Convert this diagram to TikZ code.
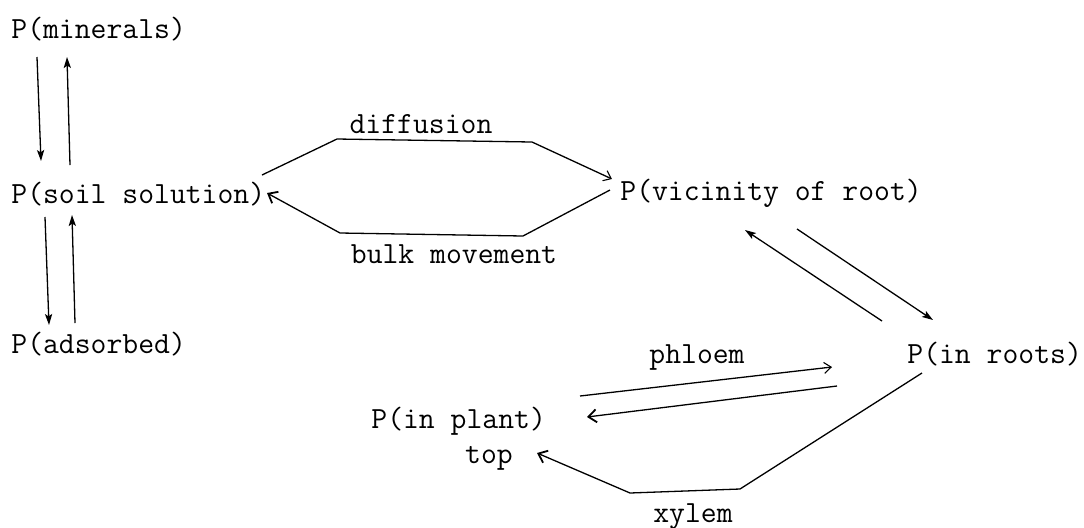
\documentclass[tikz,border=0pt]{standalone}
\usetikzlibrary{arrows.meta}
\begin{document}
\begin{tikzpicture}[x=0.5pt,y=-0.5pt,
  lbl/.style={font=\fontsize{15.4}{18}\selectfont\ttfamily, inner sep=0pt, anchor=base west},
  conn/.style={line width=0.65pt},
  heavy/.style={conn, -{Stealth[length=5.5pt,width=3.6pt,inset=1.2pt]}},
  barb/.style={conn, -{Straight Barb[length=3.5pt,width=5.5pt,line width=0.55pt]}},
  bigbarb/.style={conn, -{Straight Barb[length=4pt,width=6.5pt,line width=0.9pt]}}]
\useasboundingbox (0,0) rectangle (1084,527);
% nodes
\node[lbl] (min)   at (11,38)  {P(minerals)};
\node[lbl] (soil)  at (11,203) {P(soil solution)};
\node[lbl] (ads)   at (11,353) {P(adsorbed)};
\node[lbl] (vic)   at (620,200) {P(vicinity of root)};
\node[lbl] (roots) at (907,363) {P(in roots)};
\node[lbl] (plant) at (371,428) {P(in plant)};
\node[lbl, anchor=base] (top) at (489,463) {top};
\node[lbl, anchor=base] (ldiff) at (421,133) {diffusion};
\node[lbl, anchor=base] (lbulk) at (454,263) {bulk movement};
\node[lbl, anchor=base] (lphl)  at (697,363) {phloem};
\node[lbl, anchor=base] (lxyl)  at (693,522) {xylem};
% minerals <-> soil solution
\draw[heavy] ([shift={(26,19)}]min.base west) -- ([shift={(30,-42)}]soil.base west);
\draw[heavy] ([shift={(59,-38)}]soil.base west) -- ([shift={(56,19)}]min.base west);
% soil solution <-> adsorbed
\draw[heavy] ([shift={(34,14)}]soil.base west) -- ([shift={(38,-28)}]ads.base west);
\draw[heavy] ([shift={(64,-30)}]ads.base west) -- ([shift={(61,12)}]soil.base west);
% diffusion
\draw[barb] ([shift={(251,-28)}]soil.base west) -- (337,139) -- (532,142) -- ([shift={(-8,-21)}]vic.base west);
% bulk movement
\draw[bigbarb] ([shift={(-10,-10)}]vic.base west) -- (523,236) -- (340,233) -- ([shift={(256,-10)}]soil.base west);
% vicinity <-> roots
\draw[heavy] ([shift={(-25,-42)}]roots.base west) -- ([shift={(125,30)}]vic.base west);
\draw[heavy] ([shift={(177,29)}]vic.base west) -- ([shift={(26,-43)}]roots.base west);
% phloem
\draw[barb] ([shift={(209,-32)}]plant.base west) -- ([shift={(-75,4)}]roots.base west);
\draw[bigbarb] ([shift={(-70,23)}]roots.base west) -- ([shift={(216,-11)}]plant.base west);
% xylem
\draw[bigbarb] ([shift={(15,10)}]roots.base west) -- (740,489) -- (630,493) -- ([shift={(48,-10)}]top.base);
\end{tikzpicture}
\end{document}
